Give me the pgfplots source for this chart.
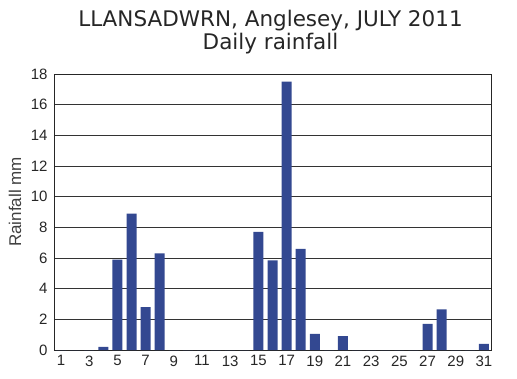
\documentclass[border=0pt]{standalone}
\usepackage{fontspec}
\setmainfont{Liberation Sans}
\newfontfamily\titlefont{DejaVu Sans}
\usepackage{pgfplots}
\pgfplotsset{compat=1.18}
\definecolor{barblue}{RGB}{51,72,145}
\begin{document}
\begin{tikzpicture}
\path[use as bounding box] (-54pt,-28pt) rectangle (463pt,350pt);
\begin{axis}[
  at={(0,0)}, anchor=south west,
  scale only axis, width=437pt, height=276pt,
  xmin=0.5, xmax=31.5, ymin=0, ymax=18,
  ytick={0,2,...,18}, xtick={1,3,...,31},
  ymajorgrids, grid style={black!80, line width=0.7pt},
  major tick length=0pt,
  ybar, bar width=10pt,
  axis line style={black!85, line width=0.8pt},
  /pgf/number format/assume math mode=true,
  ticklabel style={font=\fontsize{15}{15}\selectfont, text=black!85},
  yticklabel style={xshift=-3pt},
  xticklabel style={yshift=-2pt},
  clip=false,
]
\addplot[fill=barblue, draw=none] coordinates {
(1,0) (2,0) (3,0) (4,0.2) (5,5.9) (6,8.9) (7,2.8) (8,6.3) (9,0) (10,0)
(11,0) (12,0) (13,0) (14,0) (15,7.7) (16,5.85) (17,17.5) (18,6.6) (19,1.05) (20,0)
(21,0.9) (22,0) (23,0) (24,0) (25,0) (26,0) (27,1.7) (28,2.65) (29,0) (30,0) (31,0.4)
};
\node[anchor=base, font=\titlefont\fontsize{21.5}{21.5}\selectfont, text=black!85] at (rel axis cs:0.5,1) [xshift=-2pt, yshift=47pt] {LLANSADWRN, Anglesey, JULY 2011};
\node[anchor=base, font=\titlefont\fontsize{21.5}{21.5}\selectfont, text=black!85] at (rel axis cs:0.5,1) [xshift=-2pt, yshift=24pt] {Daily rainfall};
\node[font=\fontsize{17}{17}\selectfont, text=black!75, anchor=center] at (rel axis cs:0,0.5) [xshift=-39pt, yshift=10pt, rotate=90] {Rainfall mm};
\end{axis}
\end{tikzpicture}
\end{document}
